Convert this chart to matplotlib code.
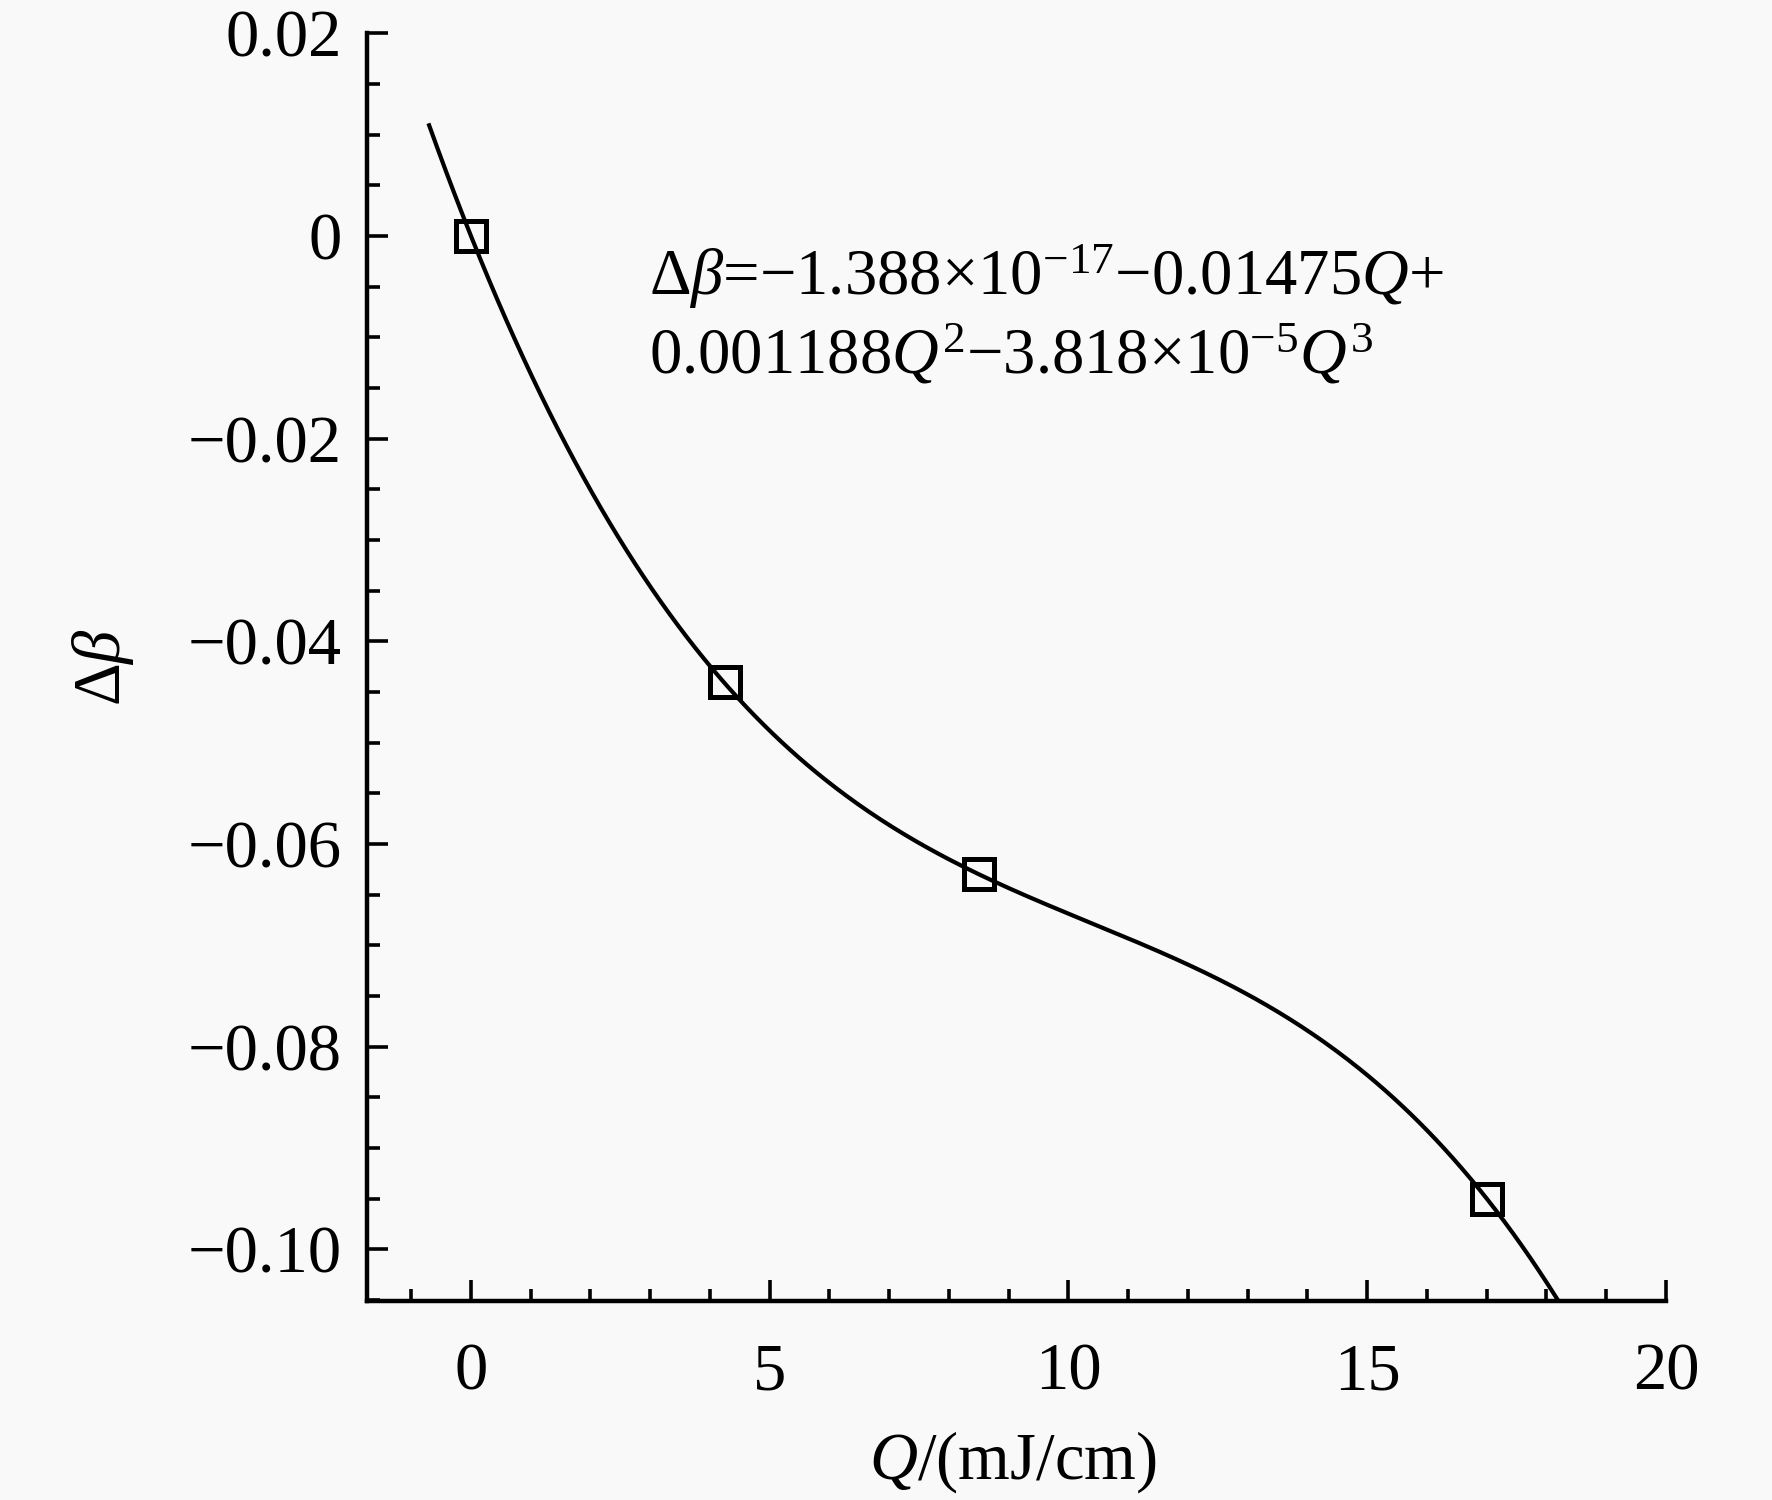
import numpy as np
import matplotlib
matplotlib.use("Agg")
import matplotlib.pyplot as plt
from matplotlib.ticker import MultipleLocator

# ---- data ----
q_points = [0.0, 4.25, 8.5, 17.0]
dbeta_points = [0.0, -0.044, -0.063, -0.095]
# fitted cubic shown in the chart (highest power first)
fit_coeffs = [-3.818e-5, 0.001188, -0.01475, -1.388e-17]
fit_q_range = [-0.7, 18.4]
x_ticks = [0, 5, 10, 15, 20]
x_tick_labels = ["0", "5", "10", "15", "20"]
y_ticks = [0.02, 0.0, -0.02, -0.04, -0.06, -0.08, -0.10]
y_tick_labels = ["0.02", "0", "\u22120.02", "\u22120.04", "\u22120.06", "\u22120.08", "\u22120.10"]
eq_line1 = "\u0394$\\mathit{\\beta}$=\u22121.388\u00d710$^{-17}$\u22120.01475$\\mathit{Q}$+"
eq_line2 = "0.001188$\\mathit{Q}^{2}$\u22123.818\u00d710$^{-5}$$\\mathit{Q}^{3}$"

plt.rcParams["font.family"] = ["Liberation Serif", "DejaVu Serif"]
plt.rcParams["mathtext.fontset"] = "custom"
plt.rcParams["mathtext.rm"] = "Liberation Serif"
plt.rcParams["mathtext.it"] = "Liberation Serif:italic"
plt.rcParams["mathtext.bf"] = "Liberation Serif:bold"

bg = "#f9f9f9"
fig = plt.figure(figsize=(17.72, 15.0), dpi=100, facecolor=bg)
W, H = 1772, 1500
left, right, top, bottom = 366.7, 1666, 33.3, 1301
ax = fig.add_axes([left / W, 1 - bottom / H, (right - left) / W, (bottom - top) / H])
ax.set_facecolor(bg)

qq = np.linspace(fit_q_range[0], fit_q_range[1], 400)
ax.plot(qq, np.polyval(fit_coeffs, qq), color="black", lw=3.0, zorder=2)
ax.plot(q_points, dbeta_points, linestyle="none", marker="s", markersize=22,
        markerfacecolor="none", markeredgecolor="black", markeredgewidth=3.6, zorder=3)

ax.set_xlim(-1.745, 20)
ax.set_ylim(-0.1051, 0.02)

for s in ["top", "right"]:
    ax.spines[s].set_visible(False)
for s in ["left", "bottom"]:
    ax.spines[s].set_linewidth(3.2)

ax.set_xticks(x_ticks)
ax.set_xticklabels(x_tick_labels)
ax.set_yticks(y_ticks)
ax.set_yticklabels(y_tick_labels)
ax.xaxis.set_minor_locator(MultipleLocator(1))
ax.yaxis.set_minor_locator(MultipleLocator(0.005))
ax.tick_params(axis="both", which="major", direction="in", width=2.6, length=15, labelsize=48)
ax.tick_params(axis="both", which="minor", direction="in", width=2.6, length=9)
ax.tick_params(axis="x", which="major", pad=30)
ax.tick_params(axis="y", which="major", pad=18)

fig.text(1013 / W, 1 - 1462 / H, r"$\mathit{Q}$/(mJ/cm)", ha="center", va="center", fontsize=48)
fig.text(103 / W, 1 - 667 / H, "\u0394$\\mathit{\\beta}$", ha="center", va="center", fontsize=48, rotation=90)

fig.text(649 / W, 1 - 295 / H, eq_line1, ha="left", va="baseline", fontsize=46.5)
fig.text(649 / W, 1 - 373 / H, eq_line2, ha="left", va="baseline", fontsize=46.5)

fig.savefig("out.png", dpi=100, facecolor=bg)
